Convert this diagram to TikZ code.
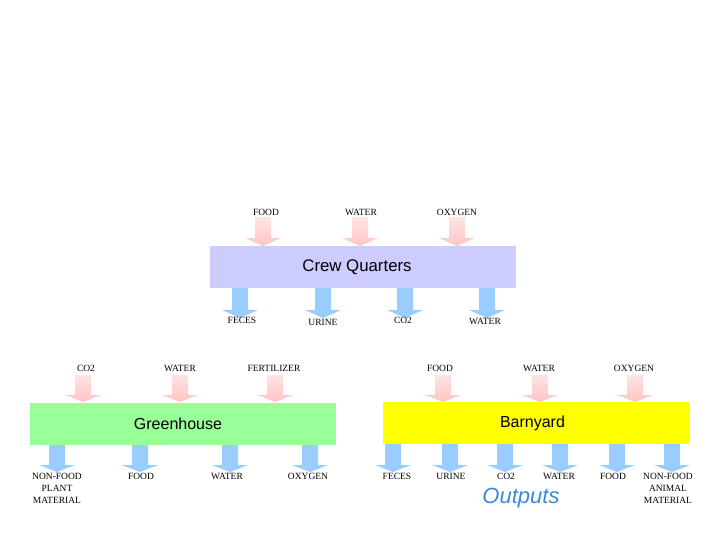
\documentclass[tikz,border=0pt]{standalone}
\usepackage{fontspec}
\setmainfont{Liberation Serif}
\newfontfamily\boxfont{Liberation Sans}
\definecolor{crewc}{HTML}{CCCCFF}
\definecolor{greenc}{HTML}{99FF99}
\definecolor{barnc}{HTML}{FFFF00}
\definecolor{inc}{HTML}{FFC4C4}
\definecolor{inctop}{HTML}{FFE4E4}
\definecolor{outc}{HTML}{99CCFF}
\definecolor{outtxt}{HTML}{3D8AD6}
\tikzset{
  boxn/.style={draw=none, inner sep=0pt, minimum width=306pt, minimum height=42pt},
  titlen/.style={font=\boxfont\fontsize{16}{18}\selectfont, inner sep=0pt},
  lab/.style={font=\fontsize{9.5}{12}\selectfont, inner sep=0pt, align=center},
  inarrow/.style={top color=inctop, bottom color=inc, draw=none},
  outarrow/.style={fill=outc, draw=none}
}
% \barrow{cx}{ytop}{yhead}{ytip}{style}
\newcommand{\barrow}[5]{%
  \path[#5] (#1-8,#2) -- (#1+8,#2) -- (#1+8,#3) -- (#1+18,#3) -- (#1,#4) -- (#1-18,#3) -- (#1-8,#3) -- cycle;}
\begin{document}
\begin{tikzpicture}[x=1pt,y=-1pt]
\useasboundingbox[fill=white] (0,0) rectangle (720,540);

% boxes
\node[boxn, fill=crewc] (crew) at (363,267) {};
\node[boxn, fill=greenc] (green) at (183,423.5) {};
\node[boxn, fill=barnc, minimum width=307pt] (barn) at (536.5,423) {};
\node[titlen, font=\boxfont\fontsize{16.8}{18}\selectfont] (crewt) at ([xshift=-6pt]crew.center) {Crew Quarters};
\node[titlen] (greent) at ([xshift=-5pt]green.center) {Greenhouse};
\node[titlen] (barnt) at ([xshift=-4pt]barn.center) {Barnyard};

% crew inputs
\foreach \x in {263,360,457} {\barrow{\x}{217}{238}{246}{inarrow}}
% crew outputs
\foreach \x in {240,323,405,487} {\barrow{\x}{288}{310}{318}{outarrow}}
% greenhouse inputs
\foreach \x in {83,180,275} {\barrow{\x}{375}{395}{402}{inarrow}}
% greenhouse outputs
\foreach \x in {57,140,230,310} {\barrow{\x}{445}{465}{472}{outarrow}}
% barnyard inputs
\foreach \x in {443,540,635} {\barrow{\x}{375}{395}{402}{inarrow}}
% barnyard outputs
\foreach \x in {393,450,505,560,617,672} {\barrow{\x}{444}{465}{472}{outarrow}}

% crew labels
\node[lab] (cfood) at (266,212) {FOOD};
\node[lab] (cwater) at (361,212) {WATER};
\node[lab] (coxy) at (457,212) {OXYGEN};
\node[lab] (cfeces) at (242,320.5) {FECES};
\node[lab] (curine) at (323,322) {URINE};
\node[lab] (cco2) at (403,320.5) {CO2};
\node[lab] (cwout) at (485,321) {WATER};

% greenhouse labels
\node[lab] (gco2) at (86,368) {CO2};
\node[lab] (gwater) at (180,368) {WATER};
\node[lab] (gfert) at (274,368) {FERTILIZER};
\node[lab, anchor=north] (gnon) at (57,473) {NON-FOOD\\PLANT\\MATERIAL};
\node[lab] (gfood) at (141,476) {FOOD};
\node[lab] (gwout) at (227,476) {WATER};
\node[lab] (goxy) at (308,476) {OXYGEN};

% barnyard labels
\node[lab] (bfood) at (440,368) {FOOD};
\node[lab] (bwater) at (539,368) {WATER};
\node[lab] (boxy) at (634,368) {OXYGEN};
\node[lab] (bfeces) at (397,476) {FECES};
\node[lab] (burine) at (451,476) {URINE};
\node[lab] (bco2) at (506,476) {CO2};
\node[lab] (bwout) at (559,476) {WATER};
\node[lab] (bfoodout) at (613,476) {FOOD};
\node[lab, anchor=north] (bnon) at (668,473) {NON-FOOD\\ANIMAL\\MATERIAL};

\node[font=\boxfont\itshape\fontsize{22}{24}\selectfont, text=outtxt, inner sep=0pt] (outputs) at (521,498) {Outputs};
\end{tikzpicture}
\end{document}
